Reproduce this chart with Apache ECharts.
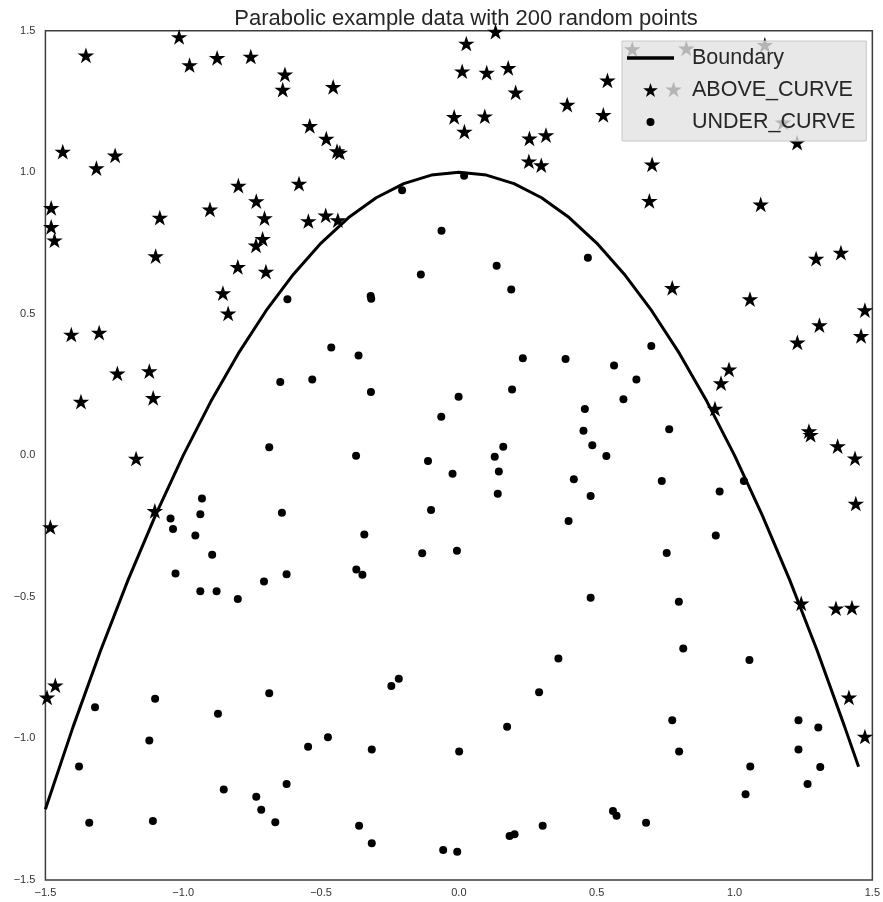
<!DOCTYPE html>
<html>
<head>
<meta charset="utf-8">
<script src="https://cdn.jsdelivr.net/npm/echarts@6/dist/echarts.min.js"></script>
<style>
  html, body { margin: 0; padding: 0; background: #fff; }
  #chart { width: 883px; height: 902px; }
</style>
</head>
<body>
<div id="chart"></div>
<script>
// boundary
var boundaryX = [-1.5, -1.4, -1.3, -1.2, -1.1, -1.0, -0.9, -0.8, -0.7, -0.6, -0.5, -0.4, -0.3, -0.2, -0.1, 0.0,
    0.1, 0.2, 0.3, 0.4, 0.5, 0.6, 0.7, 0.8, 0.9, 1.0, 1.1, 1.2, 1.3, 1.4, 1.45];
var boundaryY = [-1.25, -0.96, -0.69, -0.44, -0.21, 0.0, 0.19, 0.36, 0.51, 0.64, 0.75, 0.84, 0.91, 0.96, 0.99, 1.0,
    0.99, 0.96, 0.91, 0.84, 0.75, 0.64, 0.51, 0.36, 0.19, 0.0, -0.21, -0.44, -0.69, -0.96, -1.10];

// stars above the curve
var aboveX = [-1.015, -1.353, -0.977, -0.877, -0.755, -0.631, -0.639, -0.541, -0.481, -0.442,
    -0.432, -1.437, -1.315, -1.247, -0.800, -0.580, -0.735, -1.479, -1.085, -0.903,
    -0.705, -0.546, -0.483, -0.439, -1.479, -1.467, -0.712, -0.736, -1.100, -0.802,
    -0.700, -0.856, -0.837, -1.406, -1.305, -1.239, -1.123, -1.371, -1.109, -1.171,
    -1.482, -1.103, -1.464, -1.494, 1.415, 1.473, 1.437, 1.440, 1.242, 1.368,
    1.426, 0.133, 0.027, -0.456, 0.012, 0.101, 0.179, 0.206, 0.393, 0.524,
    -0.017, 0.094, 0.020, 0.256, 0.316, 0.254, 0.299, 0.539, 0.701, 0.691,
    1.095, 1.227, 0.629, 0.825, 1.110, 1.176, 0.779, 1.386, 1.296, 0.774,
    1.056, 1.473, 1.308, 1.228, 1.459, 0.980, 0.951, 0.929, 1.270, 1.276, 1.374];
var aboveY = [1.475, 1.410, 1.376, 1.401, 1.406, 1.343, 1.289, 1.161, 1.116, 1.072,
    1.067, 1.070, 1.012, 1.057, 0.950, 0.957, 0.895, 0.871, 0.837, 0.866,
    0.835, 0.825, 0.845, 0.828, 0.804, 0.757, 0.762, 0.739, 0.701, 0.663,
    0.646, 0.570, 0.499, 0.424, 0.431, 0.287, 0.295, 0.187, 0.200, -0.014,
    -0.256, -0.199, -0.815, -0.858, -0.858, -0.996, -0.013, -0.173, -0.526, -0.543,
    -0.541, 1.494, 1.452, 1.299, 1.354, 1.349, 1.366, 1.279, 1.236, 1.200,
    1.193, 1.195, 1.141, 1.117, 1.128, 1.036, 1.022, 1.322, 1.025, 0.896,
    0.884, 1.102, 1.432, 1.435, 1.447, 1.173, 1.290, 0.713, 0.692, 0.589,
    0.549, 0.510, 0.457, 0.396, 0.419, 0.301, 0.252, 0.162, 0.083, 0.070, 0.030];

// dots under the curve
var underX = [-0.622, -0.648, -0.532, -0.688, -0.932, -1.046, -0.938, -1.037, -0.956, -0.642,
    -0.895, -1.028, -0.625, -0.707, -0.938, -0.879, -0.802, -1.320, -1.102, -0.874,
    -0.688, -1.123, -0.547, -1.378, -0.853, -0.625, -0.735, -0.717, -0.666, -1.341,
    -1.110, -0.218, -0.245, 0.291, 0.175, -0.475, -0.316, 0.001, -0.362, -0.316,
    -0.057, -0.006, 0.184, 0.202, 0.304, 0.774, 0.799, 0.559, 0.572, 0.679,
    1.057, 1.040, 1.232, 1.304, 1.232, 1.311, 1.265, 0.736, 1.034, 0.946,
    0.932, 0.754, 0.798, 0.814, 1.054, -0.373, -0.112, 0.130, -0.023, 0.145,
    0.417, 0.478, 0.141, -0.101, 0.398, -0.343, -0.133, -0.007, -0.372, -0.350,
    0.478, 0.361, 0.468, -0.138, 0.137, 0.190, -0.320, -0.318, -0.463, -0.364,
    0.232, 0.387, -0.319, 0.193, -0.001, -0.064, 0.457, 0.452, 0.484, 0.161,
    0.019, -0.206, -0.063, 0.698, 0.563, 0.644, 0.597, 0.763, 0.535];
var underY = [0.551, 0.259, 0.268, 0.029, -0.152, -0.223, -0.208, -0.260, -0.283, -0.203,
    -0.351, -0.417, -0.420, -0.446, -0.480, -0.480, -0.507, -0.890, -0.860, -0.913,
    -0.840, -1.007, -1.029, -1.099, -1.180, -1.161, -1.206, -1.252, -1.296, -1.298,
    -1.292, -0.789, -0.815, -0.837, -0.959, -0.996, -1.039, -1.046, -1.308, -1.370,
    -1.394, -1.400, -1.345, -1.338, -1.308, -0.936, -1.046, -1.256, -1.273, -1.298,
    -1.099, -1.197, -0.936, -0.961, -1.039, -1.101, -1.161, -0.091, -0.091, -0.128,
    -0.283, -0.345, -0.517, -0.682, -0.723, -0.001, -0.020, -0.005, -0.065, -0.057,
    -0.084, -0.144, -0.136, -0.193, -0.232, -0.280, -0.346, -0.337, -0.403, -0.422,
    -0.503, -0.718, 0.698, 0.639, 0.670, 0.586, 0.563, 0.553, 0.381, 0.353,
    0.343, 0.340, 0.224, 0.233, 0.207, 0.136, 0.164, 0.087, 0.036, 0.030,
    0.988, 0.936, 0.793, 0.386, 0.317, 0.268, 0.198, 0.092, -0.002];

function pairs(xs, ys) {
    var out = [];
    for (var i = 0; i < xs.length; i++) out.push([xs[i], ys[i]]);
    return out;
}
function tickFmt(v) {
    return v.toFixed(1).replace('-', '\u2212');
}

// five-point star like matplotlib's '*'
var STAR = 'path://M50,0 L61.23,34.55 L97.55,34.55 L68.17,55.9 L79.39,90.45 L50,69.1 L20.61,90.45 L31.83,55.9 L2.45,34.55 L38.77,34.55 Z';
// legend icons
var LINE_ICON = 'path://M0,0 L47,0 L47,3.5 L0,3.5 Z';
var DOT_ICON = 'path://M0,0 L0.01,0 Z M14,14 L14.01,14 Z M7,3 A4,4 0 1 1 6.99,3 Z';

var font = '"Liberation Sans", Arial, sans-serif';
var myChart = echarts.init(document.getElementById('chart'));

myChart.setOption({
    animation: false,
    backgroundColor: '#fff',
    textStyle: { fontFamily: font },
    title: {
        text: 'Parabolic example data with 200 random points',
        left: 461,
        textAlign: 'center',
        top: 3,
        textStyle: { fontFamily: font, fontSize: 22, fontWeight: 'normal', color: '#262626' }
    },
    grid: {
        left: 45.4, right: 6, top: 30.7, bottom: 22,
        show: true, borderColor: '#3d3d3d', borderWidth: 1.5, backgroundColor: 'transparent'
    },
    legend: {
        orient: 'vertical',
        left: 622, top: 41,
        padding: [6, 11, 8, 5],
        itemWidth: 47, itemHeight: 14, itemGap: 10,
        backgroundColor: 'rgba(226,226,226,0.8)',
        borderColor: '#c8c8c8', borderWidth: 1,
        z: 10,
        data: [
            { name: 'Boundary', icon: LINE_ICON },
            { name: 'ABOVE_CURVE', icon: STAR },
            { name: 'UNDER_CURVE', icon: DOT_ICON }
        ],
        textStyle: { fontFamily: font, fontSize: 21.5, color: '#262626', padding: [0, 0, 0, 13] }
    },
    xAxis: {
        type: 'value', min: -1.5, max: 1.5, interval: 0.5,
        axisLine: { show: false }, axisTick: { show: false }, splitLine: { show: false },
        axisLabel: { formatter: tickFmt, fontSize: 11, color: '#333', margin: 7 }
    },
    yAxis: {
        type: 'value', min: -1.5, max: 1.5, interval: 0.5,
        axisLine: { show: false }, axisTick: { show: false }, splitLine: { show: false },
        axisLabel: { formatter: tickFmt, fontSize: 11, color: '#333', margin: 10 }
    },
    series: [
        {
            name: 'Boundary', type: 'line', data: pairs(boundaryX, boundaryY),
            symbol: 'none', silent: true,
            lineStyle: { color: '#000', width: 3 }, itemStyle: { color: '#000' }
        },
        {
            name: 'ABOVE_CURVE', type: 'scatter', data: pairs(aboveX, aboveY),
            symbol: STAR, symbolSize: 16.5, symbolKeepAspect: true, symbolOffset: [0, -0.8],
            silent: true,
            itemStyle: { color: '#000', opacity: 1 }
        },
        {
            name: 'UNDER_CURVE', type: 'scatter', data: pairs(underX, underY),
            symbol: 'circle', symbolSize: 8, silent: true,
            itemStyle: { color: '#000', opacity: 1 }
        }
    ]
});
</script>
</body>
</html>
